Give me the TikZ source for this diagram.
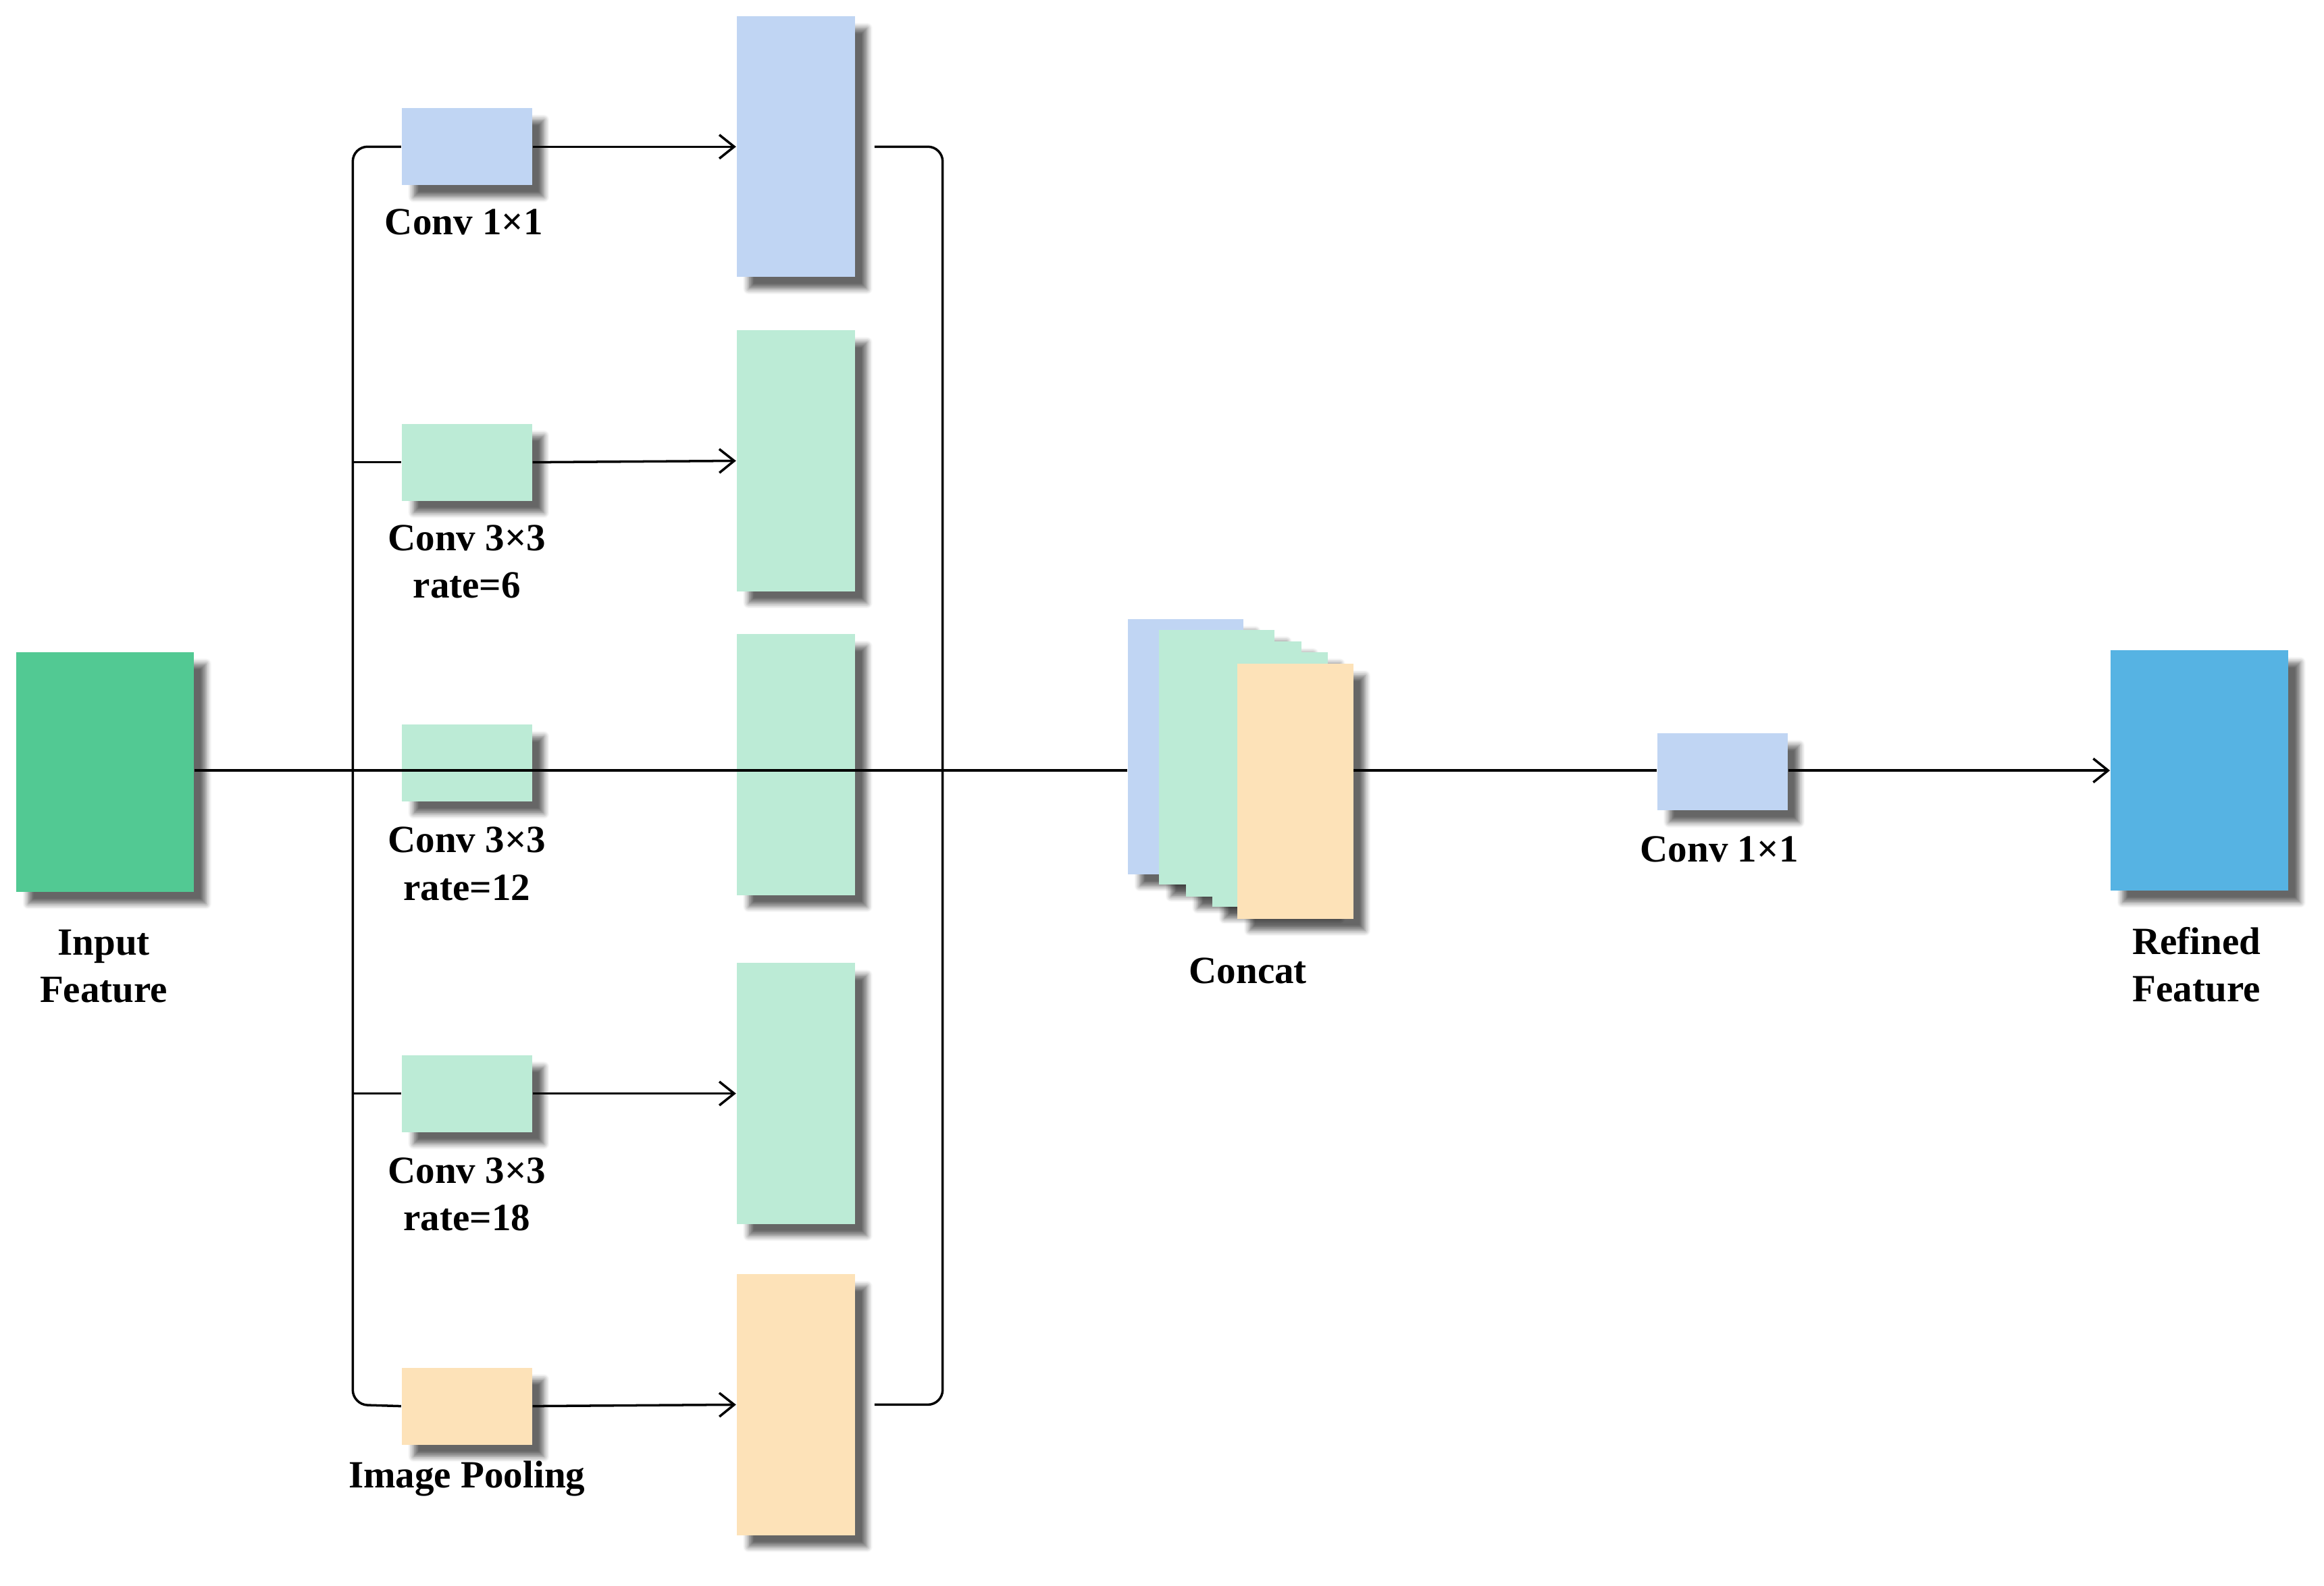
\documentclass[tikz,border=0pt]{standalone}
\usepackage{fontspec}
\setmainfont{Liberation Serif}
\usetikzlibrary{shadows.blur,arrows.meta}
\definecolor{cblue}{HTML}{C0D5F3}
\definecolor{cgreen}{HTML}{BCEBD6}
\definecolor{corange}{HTML}{FDE2B8}
\definecolor{cin}{HTML}{52C993}
\definecolor{cout}{HTML}{56B3E3}
\tikzset{
 blk/.style={draw=none,inner sep=0pt,blur shadow={shadow xshift=4pt,shadow yshift=-4pt,shadow blur steps=6,shadow opacity=60}},
 sm/.style={blk,minimum width=44pt,minimum height=26pt},
 big/.style={blk,minimum width=40pt,minimum height=88pt},
 feat/.style={blk,minimum width=60pt,minimum height=81pt},
 cc/.style={blk,minimum width=39pt,minimum height=86pt},
 lab/.style={font=\fontsize{13}{16}\selectfont\bfseries,align=center},
 ln/.style={line width=0.8pt},
 arr/.style={ln,-{Straight Barb[length=5pt,width=8pt]}},
}
\begin{document}
\begin{tikzpicture}[x=0.5pt,y=-0.5pt]
\useasboundingbox (0,0) rectangle (1568,1070);
\node[feat,fill=cin] (in) at (71,521) {};
\node[lab] (inl) at (70,652) {Input\\Feature};
\node[feat,fill=cout] (out) at (1484,520) {};
\node[lab] (outl) at (1482,651) {Refined\\Feature};
% small boxes
\node[sm,fill=cblue] (s1) at (315,99) {};
\node[sm,fill=cgreen] (s2) at (315,312) {};
\node[sm,fill=cgreen] (s3) at (315,515) {};
\node[sm,fill=cgreen] (s4) at (315,738) {};
\node[sm,fill=corange] (s5) at (315,949) {};
\node[lab] (l1) at (313,150) {Conv 1×1};
\node[lab] (l2) at (315,379) {Conv 3×3\\rate=6};
\node[lab] (l3) at (315,583) {Conv 3×3\\rate=12};
\node[lab] (l4) at (315,806) {Conv 3×3\\rate=18};
\node[lab] (l5) at (315,998) {Image Pooling};
% big boxes
\node[big,fill=cblue] (b1) at (537,99) {};
\node[big,fill=cgreen] (b2) at (537,311) {};
\node[big,fill=cgreen] (b3) at (537,516) {};
\node[big,fill=cgreen] (b4) at (537,738) {};
\node[big,fill=corange] (b5) at (537,948) {};
% brackets
\coordinate (lt) at (238,99); \coordinate (lb) at (238,948);
\coordinate (rt) at (636,99); \coordinate (rb) at (636,948);
\draw[ln,rounded corners=5pt] (s1.west) -- (lt) -- (lb) -- (s5.west);
\draw[ln] (238,312) -- (s2.west);
\draw[ln] (238,738) -- (s4.west);
\draw[ln,rounded corners=5pt] (590,99) -- (rt) -- (rb) -- (590,948);
\draw[arr] (s1.east) -- (b1.west);
\draw[arr] (s2.east) -- (b2.west);
\draw[arr] (s4.east) -- (b4.west);
\draw[arr] (s5.east) -- (b5.west);
% concat
\node[cc,fill=cblue] (c1) at (800,504) {};
\node[cc,fill=cgreen] (c2) at (821,511) {};
\node[cc,fill=cgreen] (c3) at (839,519) {};
\node[cc,fill=cgreen] (c4) at (857,526) {};
\node[cc,fill=corange] (c5) at (874,534) {};
\node[lab] (cl) at (842,655) {Concat};
\draw[ln] (in.east |- 0,520) -- (c1.west |- 0,520);
\node[sm,fill=cblue] (s6) at (1162,521) {};
\node[lab] (l6) at (1160,573) {Conv 1×1};
\draw[ln] (c5.east |- 0,520) -- (s6.west |- 0,520);
\draw[arr] (s6.east |- 0,520) -- (out.west |- 0,520);
\end{tikzpicture}
\end{document}
